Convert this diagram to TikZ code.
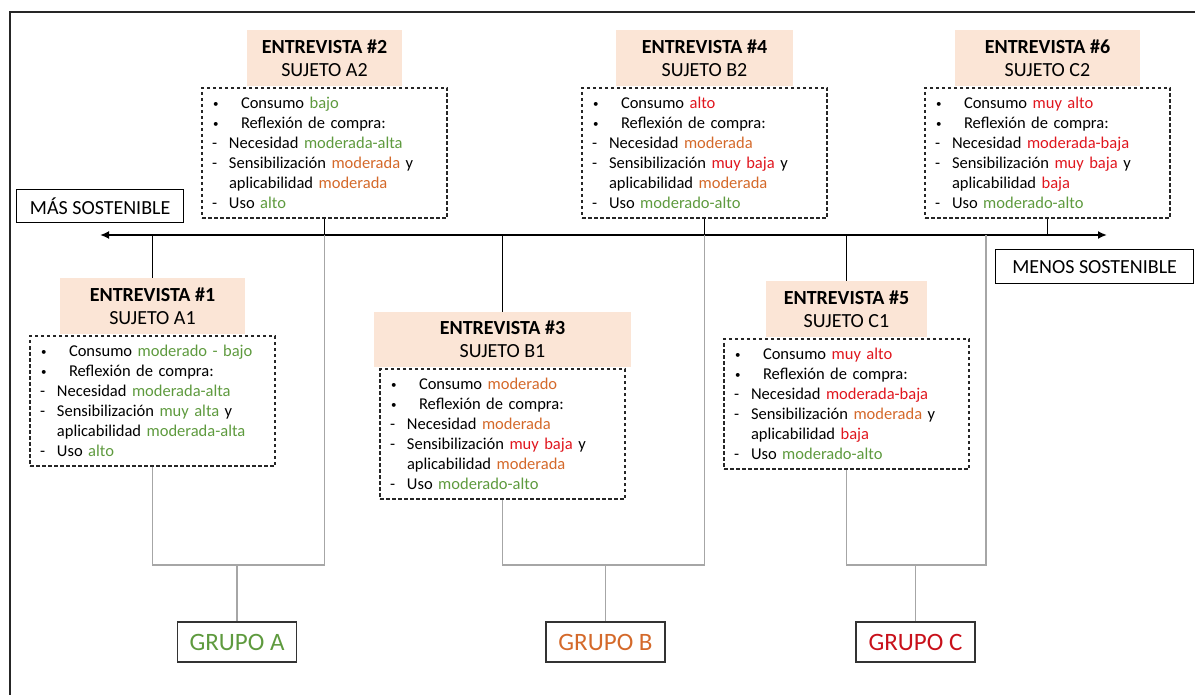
\documentclass[tikz,border=0pt]{standalone}
\usepackage{fontspec}
\setmainfont{Carlito}
\usepackage{tikz}
\usetikzlibrary{arrows.meta, positioning}

\definecolor{headfill}{HTML}{FBE5D6}
\definecolor{verde}{HTML}{5E9A3E}
\definecolor{naranja}{HTML}{D4692A}
\definecolor{rojo}{HTML}{E0161E}
\definecolor{rojoC}{HTML}{C8101A}
\definecolor{tiegray}{HTML}{A6A6A6}

\newcommand{\vd}[1]{\textcolor{verde}{#1}}
\newcommand{\nj}[1]{\textcolor{naranja}{#1}}
\newcommand{\rj}[1]{\textcolor{rojo}{#1}}
\newcommand{\pto}[1]{\makebox[29pt][l]{\hspace{1pt}{\fontsize{11}{11}\selectfont\raisebox{1pt}{\textbullet}}}#1}
\newcommand{\gui}[1]{\makebox[17pt][l]{-}#1}
\newcommand{\sig}{\hspace*{17pt}}
% ficha: consumo, necesidad, sensibilizacion, aplicabilidad, uso
\newcommand{\ficha}[5]{%
    \pto{Consumo #1}\\
    \pto{Reflexión de compra:}\\
    \gui{Necesidad #2}\\
    \gui{Sensibilización #3 y}\\
    \sig aplicabilidad #4\\
    \gui{Uso #5}}

\begin{document}
\begin{tikzpicture}[
        x=1pt, y=-1pt,
        node distance=1pt,
        head/.style={
            fill=headfill,
            anchor=north,
            align=center,
            minimum height=56pt,
            inner sep=2pt,
            font=\fontsize{20}{23}\selectfont
        },
        info/.style={
            draw=black!85,
            dash pattern=on 3.5pt off 2.5pt,
            line width=1.2pt,
            align=left,
            text width=225pt,
            minimum height=130pt,
            inner xsep=10pt,
            inner ysep=4pt,
            font=\fontsize{16.5}{20}\selectfont
        },
        pole/.style={
            draw,
            line width=1.3pt,
            anchor=north west,
            inner sep=0pt,
            font=\fontsize{20}{22}\selectfont
        },
        grupo/.style={
            draw=black!80,
            line width=1.8pt,
            minimum width=119pt,
            minimum height=40pt,
            inner sep=0pt,
            font=\fontsize{25}{30}\selectfont
        },
        axis/.style={{Latex[length=9pt,width=8pt]}-{Latex[length=9pt,width=8pt]}, line width=1.8pt},
        stem/.style={line width=1.8pt},
        tie/.style={draw=tiegray, line width=1.2pt}
    ]

        \useasboundingbox (0,0) rectangle (1195,695);

        % Marco
        \draw[line width=2pt, black!85] (10,700) -- (10,12) -- (1200,12);

        % Eje de sostenibilidad
        \coordinate (axL) at (100,235);
        \coordinate (axR) at (1107,235);
        \coordinate (j6) at (986,235);
        \draw[axis] (axL) -- (axR);

        \node[pole, minimum width=167pt, minimum height=33pt] (mas) at (16,189) {MÁS SOSTENIBLE};
        \node[pole, minimum width=198pt, minimum height=34pt] (menos) at (995,249) {MENOS SOSTENIBLE};

        % Entrevistas superiores
        \node[head, minimum width=155pt] (h2) at (324.5,30) {\textbf{ENTREVISTA \#2}\\SUJETO A2};
        \node[info, below=of h2] (i2) {\ficha{\vd{bajo}}{\vd{moderada-alta}}{\nj{moderada}}{\nj{moderada}}{\vd{alto}}};

        \node[head, minimum width=177pt] (h4) at (704.5,30) {\textbf{ENTREVISTA \#4}\\SUJETO B2};
        \node[info, below=of h4] (i4) {\ficha{\rj{alto}}{\nj{moderada}}{\rj{muy baja}}{\nj{moderada}}{\vd{moderado-alto}}};

        \node[head, minimum width=185pt] (h6) at (1047.5,30) {\textbf{ENTREVISTA \#6}\\SUJETO C2};
        \node[info, below=of h6] (i6) {\ficha{\rj{muy alto}}{\rj{moderada-baja}}{\rj{muy baja}}{\rj{baja}}{\vd{moderado-alto}}};

        % Entrevistas inferiores
        \node[head, minimum width=185pt] (h1) at (152.5,278) {\textbf{ENTREVISTA \#1}\\SUJETO A1};
        \node[info, below=of h1] (i1) {\ficha{\vd{moderado - bajo}}{\vd{moderada-alta}}{\vd{muy alta}}{\vd{moderada-alta}}{\vd{alto}}};

        \node[head, minimum width=257pt, minimum height=55pt] (h3) at (502.5,312) {\textbf{ENTREVISTA \#3}\\SUJETO B1};
        \node[info, below=of h3] (i3) {\ficha{\nj{moderado}}{\nj{moderada}}{\rj{muy baja}}{\nj{moderada}}{\vd{moderado-alto}}};

        \node[head, minimum width=161pt] (h5) at (846.5,281) {\textbf{ENTREVISTA \#5}\\SUJETO C1};
        \node[info, below=of h5] (i5) {\ficha{\rj{muy alto}}{\rj{moderada-baja}}{\nj{moderada}}{\rj{baja}}{\vd{moderado-alto}}};

        % Grupos
        \node[grupo, text=verde] (gA) at (237,642) {GRUPO A};
        \node[grupo, text=naranja] (gB) at (605.5,642) {GRUPO B};
        \node[grupo, text=rojoC] (gC) at (915.5,642) {GRUPO C};

        % Uniones con el eje
        \draw[stem] (i2.south) -- (i2.south |- axL);
        \draw[stem] (i4.south) -- (i4.south |- axL);
        \draw[stem] (i6.south) -- (i6.south |- axL);
        \draw[stem] (h1.north) -- (h1.north |- axL);
        \draw[stem] (h3.north) -- (h3.north |- axL);
        \draw[stem] (h5.north) -- (h5.north |- axL);

        % Llaves de grupo
        \draw[tie] (i1.south) -- (i1.south |- 0,565) -| (i2.south |- axL);
        \draw[tie] (gA.north) -- (gA.north |- 0,565);

        \draw[tie] (i3.south) -- (i3.south |- 0,565) -| (i4.south |- axL);
        \draw[tie] (gB.north) -- (gB.north |- 0,565);

        \draw[tie] (i5.south) -- (i5.south |- 0,565) -| (j6);
        \draw[tie] (gC.north) -- (gC.north |- 0,565);

    \end{tikzpicture}
\end{document}
